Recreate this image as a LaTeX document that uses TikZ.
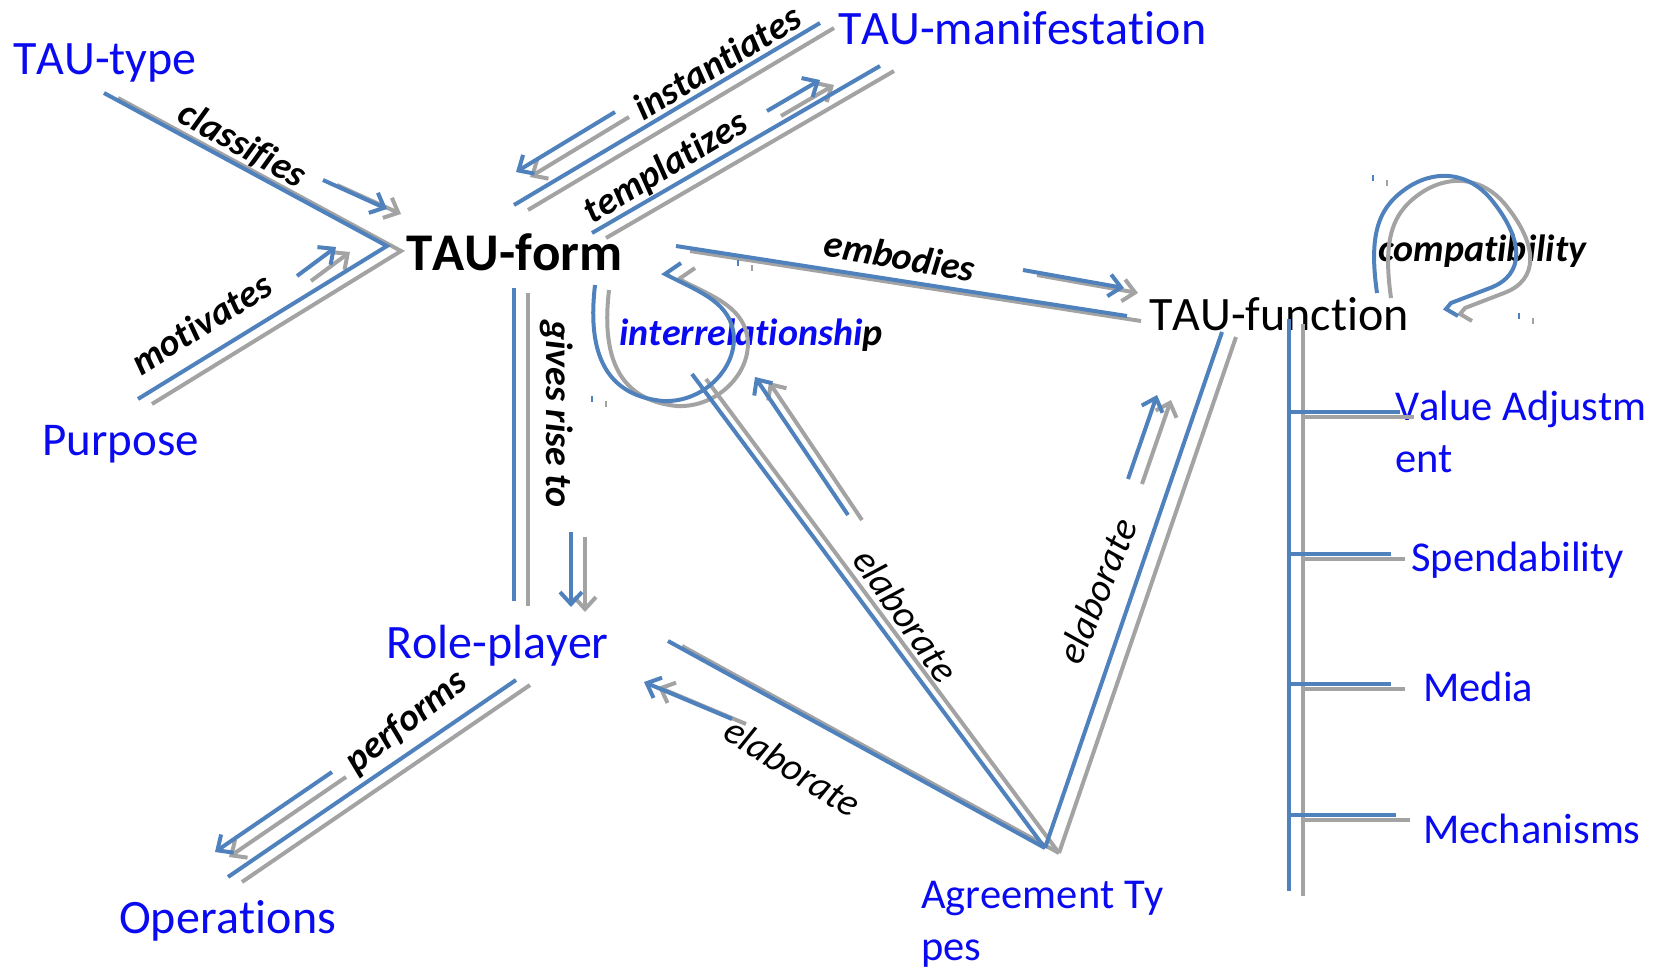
\documentclass[tikz,border=0pt]{standalone}
\usepackage{fontspec}
\setmainfont{Carlito}[Kerning=Off,Ligatures=NoCommon]
\usetikzlibrary{arrows.meta}

\definecolor{linkblue}{RGB}{79,129,189}
\definecolor{linkgray}{RGB}{163,163,163}
\definecolor{termblue}{RGB}{10,10,240}

\begin{document}
\begin{tikzpicture}[x=1pt,y=-1pt,
    term/.style={anchor=base west,inner sep=0pt,text=termblue,
      font=\fontsize{48}{54}\selectfont},
    smallterm/.style={term,font=\fontsize{42.5}{52}\selectfont},
    verb/.style={inner sep=0pt,font=\fontsize{38}{44}\selectfont\bfseries\itshape},
    elab/.style={inner sep=0pt,font=\fontsize{39}{44}\selectfont\itshape},
    pointer/.style={-{Straight Barb[length=12pt,width=22pt]}}]
  \useasboundingbox (0,0) rectangle (1663,967);

  % terms
  \node[term] (type) at (13,74) {TAU-type};
  \node[term,font=\fontsize{47}{53}\selectfont] (purpose) at (42,455) {Purpose};
  \node[term,text=black,font=\fontsize{53}{58}\selectfont\bfseries] (form) at (406,270) {TAU-form};
  \node[term] (manif) at (838,44) {TAU-manifestation};
  \node[term,text=black] (func) at (1149,330) {TAU-function};
  \node[term] (role) at (386,658) {Role-player};
  \node[term] (oper) at (119,933) {Operations};
  \node[smallterm,align=left] (agree) at (921,960) {Agreement Ty\\pes};
  \node[smallterm,align=left] (value) at (1395,472) {Value Adjustm\\ent};
  \node[smallterm] (spend) at (1411,571) {Spendability};
  \node[smallterm] (media) at (1423,701) {Media};
  \node[smallterm] (mech) at (1423,843) {Mechanisms};

  % relation labels
  \node[verb,rotate=-29] (cls) at (242,145) {classifies};
  \node[verb,rotate=32] (mot) at (201,323) {motivates};
  \node[verb,rotate=31] (inst) at (717,62) {instantiates};
  \node[verb,rotate=31] (tmpl) at (666,168) {templatizes};
  \node[verb,rotate=-10] (emb) at (900,256) {embodies};
  \node[verb,rotate=-90] (give) at (557,414) {gives rise to};
  \node[verb,rotate=38] (perf) at (407,722) {performs};
  \node[verb,text=termblue] (inter) at (751,335) {interrelationshi\textcolor{black}{p}};
  \node[verb] (compat) at (1482,251) {compatibility};
  \node[elab,rotate=-32] (elabA) at (793,767) {elaborate};
  \node[elab,rotate=-55] (elabB) at (906,615) {elaborate};
  \node[elab,rotate=68] (elabC) at (1097,591) {elaborate};

  % line ends
  \coordinate (typeEnd) at (104,93);
  \coordinate (apex) at (387,246);
  \coordinate (purpEnd) at (138,399);
  \coordinate (clsTail) at (323,180);
  \coordinate (clsHead) at (387,209);
  \coordinate (motTail) at (297,276);
  \coordinate (motHead) at (336,247);
  \coordinate (instA) at (514,205);
  \coordinate (instB) at (820,23);
  \coordinate (instTail) at (615,112);
  \coordinate (instHead) at (516,172);
  \coordinate (tmplA) at (592,233);
  \coordinate (tmplB) at (880,66);
  \coordinate (tmplTail) at (767,111);
  \coordinate (tmplHead) at (820,80);
  \coordinate (embA) at (676,246);
  \coordinate (embB) at (1127,316);
  \coordinate (embTail) at (1023,270);
  \coordinate (embHead) at (1124,288);
  \coordinate (giveA) at (514,288);
  \coordinate (giveB) at (514,601);
  \coordinate (giveTail) at (571,532);
  \coordinate (giveHead) at (571,607);
  \coordinate (perfA) at (516,680);
  \coordinate (perfB) at (228,877);
  \coordinate (perfTail) at (332,772);
  \coordinate (perfHead) at (215,852);
  \coordinate (agreeTop) at (1045,848);
  \coordinate (elabAEnd) at (668,641);
  \coordinate (elabATail) at (732,719);
  \coordinate (elabAHead) at (644,682);
  \coordinate (elabBEnd) at (692,374);
  \coordinate (elabBTail) at (848,515);
  \coordinate (elabBHead) at (755,377);
  \coordinate (elabCEnd) at (1222,332);
  \coordinate (elabCTail) at (1128,479);
  \coordinate (elabCHead) at (1157,395);
  \coordinate (stem) at (1289,319);
  \coordinate (stemEnd) at (1289,891);

  % every link twice: grey shadow, then blue
  \foreach \dx/\dy/\pen in {14/5/linkgray,0/0/linkblue} {
    \begin{scope}[transform canvas={shift={(\dx,\dy)}},
        every path/.append style={draw=\pen,line width=4pt}]
      \draw (typeEnd) -- (apex) -- (purpEnd);
      \draw[pointer] (clsTail) -- (clsHead);
      \draw[pointer] (motTail) -- (motHead);
      \draw (instA) -- (instB);
      \draw[pointer] (instTail) -- (instHead);
      \draw (tmplA) -- (tmplB);
      \draw[pointer] (tmplTail) -- (tmplHead);
      \draw (embA) -- (embB);
      \draw[pointer] (embTail) -- (embHead);
      \draw (giveA) -- (giveB);
      \draw[pointer] (giveTail) -- (giveHead);
      \draw (perfA) -- (perfB);
      \draw[pointer] (perfTail) -- (perfHead);
      \draw (agreeTop) -- (elabAEnd);
      \draw[pointer] (elabATail) -- (elabAHead);
      \draw (agreeTop) -- (elabBEnd);
      \draw[pointer] (elabBTail) -- (elabBHead);
      \draw (agreeTop) -- (elabCEnd);
      \draw[pointer] (elabCTail) -- (elabCHead);
      % interrelationship loop
      \draw (595,285) .. controls (588,345) and (600,395) .. (663,401)
        .. controls (705,403) and (740,365) .. (733,330)
        .. controls (727,300) and (695,290) .. (665,274) -- (681,263);
      % compatibility loop
      \draw (1377,293) .. controls (1368,230) and (1380,205) .. (1410,186)
        .. controls (1440,168) and (1470,175) .. (1490,198)
        .. controls (1525,240) and (1525,275) .. (1490,288)
        -- (1451,303) -- (1446,309) -- (1458,316);
      % function tree
      \draw (stem) -- (stemEnd);
      \draw (1289,412) -- (1400,412);
      \draw (1289,554) -- (1391,554);
      \draw (1289,684) -- (1391,684);
      \draw (1289,815) -- (1396,815);
      % small ticks
      \draw[line width=1.5pt] (592,396) -- (592,402);
      \draw[line width=1.5pt] (738,260) -- (738,266);
      \draw[line width=1.5pt] (1373,175) -- (1373,181);
      \draw[line width=1.5pt] (1519,313) -- (1519,319);
    \end{scope}
  }
\end{tikzpicture}
\end{document}
